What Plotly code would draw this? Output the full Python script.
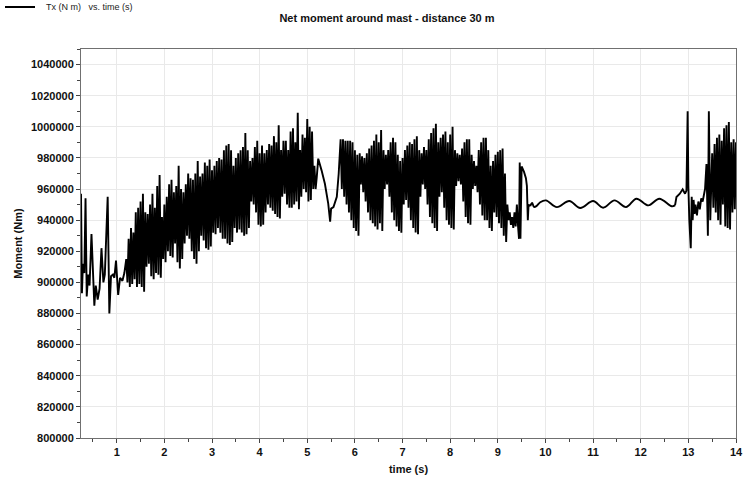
import plotly.graph_objects as go

# ---------------- data (Tx in kN·m, time in s) ----------------
BAND_DT = 0.05  # sampling of the dense oscillation bands (peak / trough pairs)

# irregular start of the record
seg_a_time = [0.25, 0.27, 0.29, 0.32, 0.345, 0.37, 0.40, 0.43, 0.47, 0.53, 0.56, 0.60,
              0.64, 0.68, 0.72, 0.75, 0.81, 0.845, 0.88, 0.92, 0.95, 0.985, 1.03, 1.07,
              1.12, 1.16]
seg_a_tx = [957, 893, 912, 906, 954, 891, 905, 898, 931, 885, 898, 889,
            896, 922, 900, 905, 955, 880, 904, 905, 903, 914, 892, 903,
            901, 906]

# dense oscillation 1.20 s - 5.15 s (upper / lower extremes)
band1_start = 1.20
band1_upper = [915, 928, 935, 932, 945, 948, 952, 957, 945, 944,
               950, 957, 948, 962, 969, 942, 950, 955, 963, 966,
               958, 962, 975, 960, 958, 963, 970, 967, 966, 970,
               978, 968, 970, 977, 975, 979, 972, 975, 978, 980,
               979, 985, 988, 989, 985, 975, 980, 983, 985, 987,
               996, 985, 978, 980, 987, 991, 983, 988, 983, 985,
               989, 988, 994, 990, 1001, 985, 991, 991, 985, 997,
               999, 990, 1009, 985, 995, 993, 1005, 1000, 997, 975]
band1_lower = [900, 897, 899, 902, 897, 899, 897, 894, 910, 912,
               904, 902, 906, 905, 903, 915, 913, 920, 917, 916,
               925, 913, 909, 915, 925, 930, 928, 920, 915, 912,
               920, 930, 927, 922, 921, 923, 932, 931, 935, 932,
               928, 928, 925, 924, 926, 935, 932, 934, 932, 930,
               931, 935, 952, 950, 945, 937, 936, 937, 945, 950,
               948, 946, 944, 942, 941, 955, 957, 950, 948, 948,
               950, 952, 947, 955, 960, 958, 952, 953, 960, 960]

# smooth dip between the bands
seg_c_time = [5.20, 5.23, 5.30, 5.37, 5.44, 5.48, 5.50, 5.55, 5.62, 5.66]
seg_c_tx = [968, 979.5, 972, 963.4, 950.6, 939, 947.4, 948.4, 955, 970]

# dense oscillation 5.70 s - 9.40 s
band2_start = 5.70
band2_upper = [992, 992, 991, 991, 991, 990,
               985, 982, 983, 981, 980, 983, 986, 988, 991, 995,
               990, 998, 985, 982, 985, 990, 993, 990, 982, 978,
               980, 985, 988, 990, 989, 992, 994, 985, 983, 987,
               985, 992, 996, 999, 1002, 990, 993, 995, 997, 990,
               995, 1000, 985, 983, 982, 986, 990, 992, 992, 982,
               978, 975, 985, 990, 993, 993, 985, 975, 978, 982,
               984, 985, 986, 970, 950, 945, 942, 945, 950]
band2_lower = [960, 955, 950, 945, 940, 935,
               933, 930, 963, 958, 952, 945, 940, 938, 936, 934,
               938, 933, 960, 963, 955, 945, 940, 936, 933, 932,
               950, 953, 948, 940, 935, 932, 931, 955, 963, 960,
               950, 942, 938, 935, 933, 955, 958, 948, 940, 937,
               935, 934, 962, 965, 963, 952, 942, 938, 937, 960,
               962, 958, 950, 943, 940, 940, 935, 933, 945, 942,
               938, 935, 930, 926, 940, 937, 935, 936, 936]

# settling after the second band
seg_e_time = [9.445, 9.46, 9.475, 9.50, 9.55, 9.59, 9.61, 9.63, 9.645, 9.68]
seg_e_tx = [928, 977, 928, 974.5, 971, 967, 962, 940, 950, 949]

# slow, smooth oscillation (peaks and troughs)
wave_time = [9.68, 9.72, 9.76, 9.81, 9.89, 10.01, 10.24, 10.50, 10.73, 11.00,
             11.21, 11.45, 11.69, 11.91, 12.16, 12.39, 12.65, 12.72]
wave_tx = [949, 951, 948.5, 949, 951.5, 952.7, 948.4, 952.3, 947.8, 952.3,
           948, 952.7, 948.4, 953.8, 949.5, 953.8, 948.9, 949.5]

# restart of the excitation
seg_f_time = [12.72, 12.75, 12.82, 12.88, 12.93, 12.96, 12.985, 13.00, 13.02, 13.05,
              13.07, 13.09, 13.11, 13.13, 13.15, 13.18, 13.21, 13.24, 13.27, 13.30,
              13.35, 13.38, 13.41, 13.43, 13.46]
seg_f_tx = [949.5, 954.9, 957, 959.8, 957, 959, 1010, 962, 940, 922,
            955, 940, 953, 944, 950, 943, 952, 947, 954, 952,
            960, 976, 930, 1010, 940]

# dense oscillation 13.50 s - 14.00 s
band3_start = 13.50
band3_upper = [983, 989, 993, 995, 991, 999, 1001, 1003, 990, 992, 990]
band3_lower = [948, 945, 940, 937, 950, 936, 935, 934, 945, 947, 948]

x_ticks = list(range(1, 15))
legend_label = "Tx (N m)\u00a0\u00a0\u00a0vs. time (s)"


def band(start, upper, lower):
    t, v = [], []
    for i, (u, l) in enumerate(zip(upper, lower)):
        t0 = start + i * BAND_DT
        t += [round(t0, 4), round(t0 + BAND_DT / 2, 4)]
        v += [u, l]
    return t, v


time_s, tx_k = [], []
for tt, vv in [(seg_a_time, seg_a_tx),
               band(band1_start, band1_upper, band1_lower),
               (seg_c_time, seg_c_tx),
               band(band2_start, band2_upper, band2_lower),
               (seg_e_time, seg_e_tx),
               ([None], [None]),            # slow wave drawn as a smooth trace
               (seg_f_time, seg_f_tx),
               band(band3_start, band3_upper, band3_lower)]:
    time_s += list(tt)
    tx_k += list(vv)
tx_nm = [None if v is None else v * 1000 for v in tx_k]
wave_nm = [v * 1000 for v in wave_tx]

FONT = "Liberation Sans"
W, H = 748, 484
L, R, T, B = 81, 12, 49, 46
PW, PH = W - L - R, H - T - B


def px_x(px):  # figure pixel -> paper coordinate
    return (px - L) / PW


def px_y(py):
    return (H - B - py) / PH


fig = go.Figure()
fig.add_trace(go.Scatter(
    x=time_s, y=tx_nm, mode="lines", connectgaps=False,
    line=dict(color="black", width=1.9, simplify=False),
    name=legend_label, showlegend=False,
))
fig.add_trace(go.Scatter(
    x=wave_time, y=wave_nm, mode="lines",
    line=dict(color="black", width=1.9, shape="spline", smoothing=1),
    name=legend_label, showlegend=False,
))

# legend drawn as a line sample plus text at the top-left corner
fig.add_shape(type="line", xref="paper", yref="paper",
              x0=px_x(5), x1=px_x(35), y0=px_y(7), y1=px_y(7),
              line=dict(color="black", width=2))
fig.add_annotation(xref="paper", yref="paper", x=px_x(44), y=px_y(7),
                   xanchor="left", yanchor="middle", showarrow=False,
                   text=legend_label,
                   font=dict(family=FONT, size=9, color="#222"))

axis_common = dict(
    showgrid=True, gridcolor="#e9e9e9", gridwidth=1,
    showline=True, linecolor="#707070", linewidth=1, mirror=True,
    ticks="outside", ticklen=4, tickcolor="#444", tickwidth=1,
    zeroline=False,
    tickfont=dict(family=FONT, size=11, color="#111", weight="bold"),
)

fig.update_layout(
    width=W, height=H,
    margin=dict(l=L, r=R, t=T, b=B, autoexpand=False),
    paper_bgcolor="white", plot_bgcolor="white",
    title=dict(text="<b>Net moment around mast - distance 30 m</b>",
               font=dict(family=FONT, size=11, color="#111"),
               x=387 / W, xanchor="center", y=1 - 18 / H, yanchor="middle"),
    showlegend=False,
    xaxis=dict(range=[0.25, 14], tickvals=x_ticks,
               minor=dict(dtick=0.5, tick0=0, ticks="outside", ticklen=3,
                          tickcolor="#444", showgrid=False),
               title=dict(text="<b>time (s)</b>", standoff=8,
                          font=dict(family=FONT, size=11, color="#111")),
               **axis_common),
    yaxis=dict(range=[800000, 1050000], dtick=20000, tick0=0, tickformat="d",
               minor=dict(dtick=10000, tick0=0, ticks="outside", ticklen=3,
                          tickcolor="#444", showgrid=False),
               title=dict(text="<b>Moment (Nm)</b>", standoff=6,
                          font=dict(family=FONT, size=11, color="#111")),
               **axis_common),
)

fig.write_html("out.html",
               config={"displayModeBar": False},
               post_script="document.body.style.margin='0px';")
